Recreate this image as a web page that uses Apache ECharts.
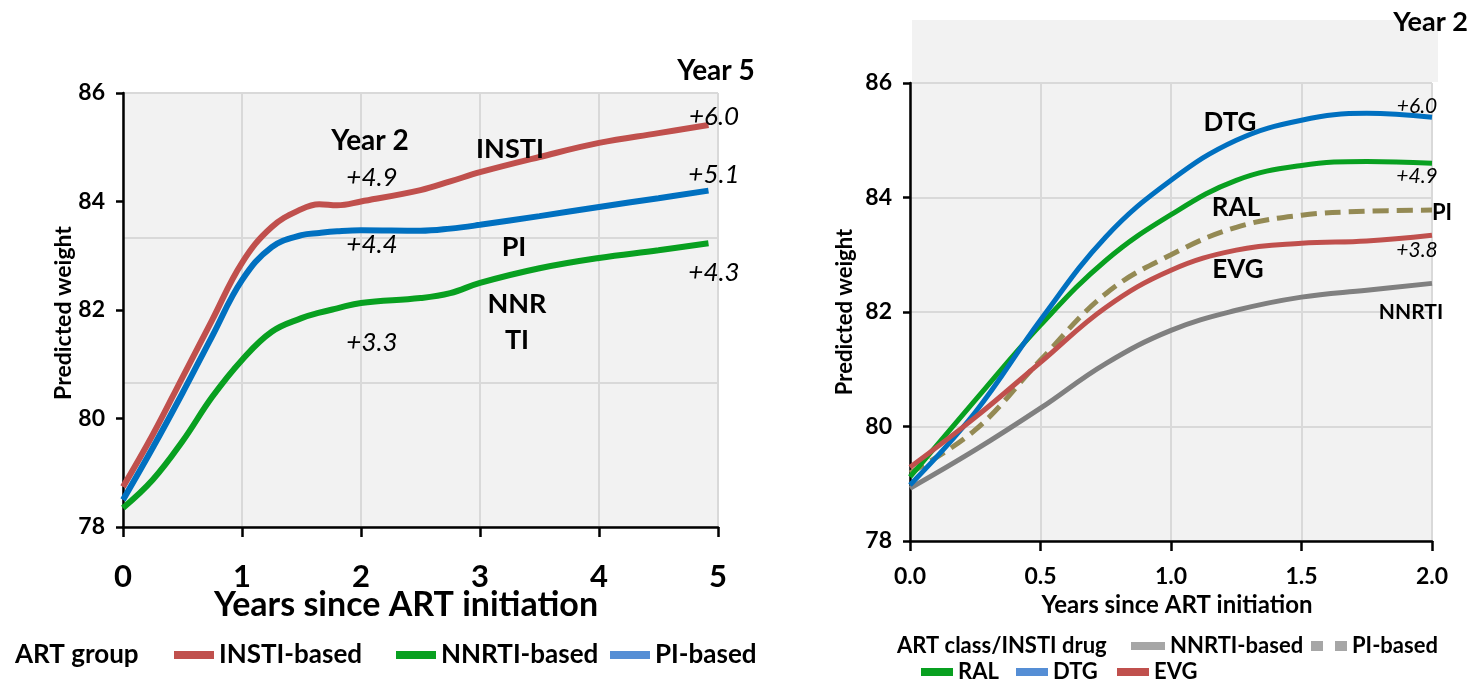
<!DOCTYPE html>
<html><head><meta charset="utf-8">
<script src="https://cdn.jsdelivr.net/npm/echarts@6/dist/echarts.min.js"></script>
<style>html,body{margin:0;padding:0;background:#fff}#c{width:1471px;height:683px}</style>
</head><body><div id="c"></div>
<script>
// ---------- DATA ----------
// Left panel: ART group, years 0-5
const leftYears = [0, 0.25, 0.5, 0.75, 1, 1.25, 1.5, 1.65, 1.8, 2, 2.5, 2.75, 3, 3.5, 4, 4.5, 4.92];
const instiBased = [78.74, 79.7, 80.76, 81.82, 82.87, 83.53, 83.86, 83.95, 83.93, 84.0, 84.21, 84.37, 84.54, 84.82, 85.08, 85.26, 85.41];
const piBased = [78.5, 79.46, 80.47, 81.52, 82.55, 83.16, 83.38, 83.42, 83.45, 83.47, 83.46, 83.5, 83.57, 83.73, 83.9, 84.06, 84.2];
const nnrtiBased = [78.35, 78.87, 79.58, 80.4, 81.08, 81.6, 81.85, 81.95, 82.03, 82.13, 82.22, 82.31, 82.5, 82.77, 82.96, 83.1, 83.23];
const leftXTicks = [0, 1, 2, 3, 4, 5];
const weightTicks = [78, 80, 82, 84, 86];

// Right panel: ART class / INSTI drug, years 0-2
const rightYears = [0, 0.25, 0.5, 0.75, 1, 1.25, 1.5, 1.75, 2];
const nnrtiR = [78.92, 79.59, 80.32, 81.1, 81.68, 82.03, 82.26, 82.38, 82.5];
const piR = [79.19, 79.94, 81.16, 82.32, 83.0, 83.48, 83.69, 83.76, 83.78];
const ral = [79.12, 80.46, 81.77, 82.9, 83.7, 84.3, 84.56, 84.63, 84.6];
const dtg = [78.98, 80.25, 81.86, 83.31, 84.3, 85.0, 85.35, 85.47, 85.4];
const evg = [79.29, 80.16, 81.12, 82.08, 82.73, 83.08, 83.2, 83.24, 83.34];
const rightXTicks = ['0.0', '0.5', '1.0', '1.5', '2.0'];

// ---------- CHART ----------
const FONT = 'Lato, "Noto Sans", sans-serif';
const BLACK = '#000';
const GRIDC = '#d9d9d9';
const C = {red:'#c0504d', blue:'#0070c0', green:'#08a020', gray:'#808080', olive:'#948a54',
           lblue:'#558ed5', lgray:'#a6a6a6'};

const pairs = (xs, ys) => xs.map((x, i) => [x, ys[i]]);

function lineSeries(name, xi, yi, xs, ys, color, width, dashed) {
  return {
    name, type:'line', xAxisIndex:xi, yAxisIndex:yi, data:pairs(xs, ys),
    smooth:0.4, symbol:'none', showSymbol:false, silent:true,
    lineStyle:{color, width, type: dashed ? [16, 8] : 'solid', cap:'butt'},
    itemStyle:{color}
  };
}

function T(text, x, y, size, opt) {
  opt = opt || {};
  return {
    type:'text', x, y, rotation: opt.rot || 0, z: 10,
    style:{
      text, fill: BLACK,
      font: (opt.italic ? 'italic ' : '') + (opt.italic && !opt.bold ? 'normal ' : 'bold ') + size + 'px ' + FONT,
      align: opt.align || 'center', verticalAlign:'middle'
    }
  };
}

const legendCommon = {
  orient:'horizontal', padding:0, itemGap:0, selectedMode:false,
  icon:'rect', itemHeight:8,
  itemStyle:{borderWidth:0},
  lineStyle:{width:0},
  textStyle:{fontFamily:FONT, fontWeight:'bold', color:BLACK, fontSize:26, lineHeight:26}
};
function L(name, left, centerY, color, w, fs, icon, h) {
  return Object.assign({}, legendCommon, {
    left, top: centerY - fs/2,
    itemWidth: w, itemHeight: h || 8,
    icon: icon || 'rect',
    textStyle: Object.assign({}, legendCommon.textStyle, {fontSize: fs, lineHeight: fs}),
    data:[{name, itemStyle:{color, borderWidth:0}}]
  });
}

const axisLineS = {show:true, onZero:false, lineStyle:{color:BLACK, width:2.5}};
const axisTickS = (len) => ({show:true, inside:false, length:len, lineStyle:{color:BLACK, width:2.5}});

const option = {
  backgroundColor:'#fff',
  animation:false,
  textStyle:{fontFamily:FONT},
  grid:[
    {left:123, right:1471-718, top:93, bottom:683-527, show:true, backgroundColor:'#f2f2f2', borderWidth:0, containLabel:false, outerBoundsMode:'none'},
    {left:910, right:1471-1432, top:83, bottom:683-541, show:true, backgroundColor:'#f2f2f2', borderWidth:0, containLabel:false, outerBoundsMode:'none'}
  ],
  xAxis:[
    {gridIndex:0, type:'value', min:leftXTicks[0], max:leftXTicks[leftXTicks.length-1], interval:1,
     axisLine:axisLineS, axisTick:axisTickS(10),
     axisLabel:{fontSize:31, fontWeight:'bold', color:BLACK, margin:34, fontFamily:FONT,
                formatter:(v)=>String(v)},
     splitLine:{show:true, lineStyle:{color:GRIDC, width:2}}},
    {gridIndex:1, type:'value', min:0, max:2, interval:0.5,
     axisLine:axisLineS, axisTick:axisTickS(10),
     axisLabel:{fontSize:23, fontWeight:'bold', color:BLACK, margin:24, fontFamily:FONT,
                formatter:(v)=>rightXTicks[Math.round(v*2)]},
     splitLine:{show:true, lineStyle:{color:GRIDC, width:2}}}
  ],
  yAxis:[
    {gridIndex:0, type:'value', min:weightTicks[0], max:weightTicks[weightTicks.length-1], interval:2,
     axisLine:axisLineS, axisTick:axisTickS(7),
     axisLabel:{fontSize:23, fontWeight:'bold', color:BLACK, margin:18, fontFamily:FONT},
     splitLine:{show:false}},
    {gridIndex:0, type:'value', min:0, max:3, interval:1, position:'left',
     axisLine:{show:false}, axisTick:{show:false}, axisLabel:{show:false},
     splitLine:{show:true, lineStyle:{color:GRIDC, width:2}}},
    {gridIndex:1, type:'value', min:weightTicks[0], max:weightTicks[weightTicks.length-1], interval:2,
     axisLine:axisLineS, axisTick:axisTickS(7),
     axisLabel:{fontSize:23, fontWeight:'bold', color:BLACK, margin:18, fontFamily:FONT},
     splitLine:{show:true, lineStyle:{color:GRIDC, width:2}}}
  ],
  legend:[
    L('INSTI-based', 174, 655, C.red, 40, 26),
    L('NNRTI-based', 396, 655, C.green, 40, 26),
    L('PI-based', 610, 655, C.lblue, 40, 26),
    L('NNRTI-based', 1131, 646, C.lgray, 34, 22),
    L('PI-based', 1311, 646, C.lgray, 36, 22, 'path://M0,0h12v10h-12z M24,0h12v10h-12z', 10),
    L('RAL', 921, 672, C.green, 32, 22),
    L('DTG', 1016, 672, C.lblue, 32, 22),
    L('EVG', 1117, 672, C.red, 32, 22)
  ],
  series:[
    lineSeries('INSTI-based', 0, 0, leftYears, instiBased, C.red, 6),
    lineSeries('NNRTI-based', 0, 0, leftYears, nnrtiBased, C.green, 6),
    lineSeries('PI-based', 0, 0, leftYears, piBased, C.blue, 6),
    lineSeries('NNRTI-based', 1, 2, rightYears, nnrtiR, C.gray, 5),
    lineSeries('PI-based', 1, 2, rightYears, piR, C.olive, 5, true),
    lineSeries('RAL', 1, 2, rightYears, ral, C.green, 5),
    lineSeries('DTG', 1, 2, rightYears, dtg, C.blue, 5),
    lineSeries('EVG', 1, 2, rightYears, evg, C.red, 5)
  ],
  graphic:[
    {type:'rect', shape:{x:912, y:20, width:526, height:62}, style:{fill:'#f2f2f2'}, z:-1, silent:true},
    // left panel texts
    T('Year 5', 716, 71, 28),
    T('Year 2', 370, 141, 28),
    T('+4.9', 372, 178, 26, {italic:true}),
    T('INSTI', 510, 149, 27),
    T('+6.0', 714, 117, 26, {italic:true}),
    T('+5.1', 714, 175, 26, {italic:true}),
    T('+4.4', 372, 245, 26, {italic:true}),
    T('PI', 514, 247, 27),
    T('+4.3', 714, 273, 26, {italic:true}),
    T('NNR', 517, 304, 27),
    T('TI', 517, 340, 27),
    T('+3.3', 372, 343, 26, {italic:true}),
    T('Years since ART initiation', 406, 605, 34),
    T('Predicted weight', 64, 313, 23, {rot:Math.PI/2}),
    T('ART group', 15, 655, 26, {align:'left'}),
    // right panel texts
    T('Year 2', 1468, 22, 27, {align:'right'}),
    T('DTG', 1230, 123, 26),
    T('RAL', 1236, 208, 26),
    T('EVG', 1238, 270, 26),
    T('+6.0', 1417, 106, 21, {italic:true}),
    T('+4.9', 1417, 176, 21, {italic:true}),
    T('PI', 1442, 213, 22),
    T('+3.8', 1417, 250, 21, {italic:true}),
    T('NNRTI', 1411, 312, 21),
    T('Years since ART initiation', 1177, 605, 24),
    T('Predicted weight', 845, 312, 22, {rot:Math.PI/2}),
    T('ART class/INSTI drug', 897, 646, 22, {align:'left'})
  ]
};

const chart = echarts.init(document.getElementById('c'), null, {renderer:'canvas', width:1471, height:683});
chart.setOption(option);
</script>
</body></html>
